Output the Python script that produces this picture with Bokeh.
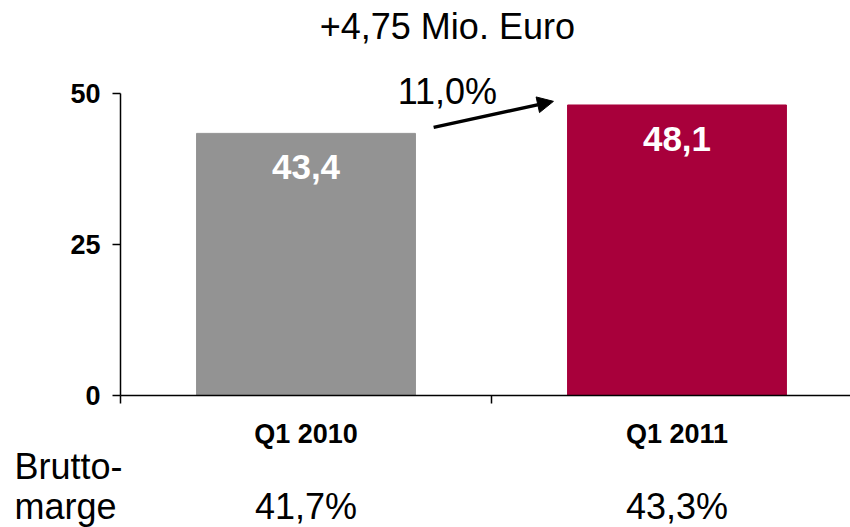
from bokeh.plotting import figure
from bokeh.models import Range1d, FixedTicker, Label, Arrow, NormalHead, ColumnDataSource
from bokeh.embed import file_html
from bokeh.resources import INLINE
from bokeh.core.properties import value

# ---- data ----
categories = ["Q1 2010", "Q1 2011"]
revenue = [43.4, 48.1]
revenue_labels = ["43,4", "48,1"]
margin_labels = ["41,7%", "43,3%"]
margin_row_title = ["Brutto-", "marge"]
growth_label = "11,0%"
delta_label = "+4,75 Mio. Euro"
bar_colors = ["#939393", "#A8003B"]
y_ticks = [0, 25, 50]

FONT = "Liberation Sans"
xs = [i + 0.5 for i in range(len(categories))]

src = ColumnDataSource(dict(x=xs, top=revenue, lab=revenue_labels, color=bar_colors))

# frame covers the whole canvas; axes are pinned at x=0 / y=0
p = figure(width=850, height=527, output_backend="svg", toolbar_location=None,
           x_range=Range1d(-0.3235, 1.9677), y_range=Range1d(-21.85, 65.4),
           min_border=0)
p.outline_line_color = None
p.grid.visible = False
p.background_fill_color = "white"
p.border_fill_color = "white"

p.vbar(x="x", top="top", width=0.59, color="color", source=src)
p.text(x="x", y="top", text="lab", source=src, text_color="white",
       text_font=value(FONT), text_font_style="bold", text_font_size="35px",
       text_align="center", text_baseline="middle", y_offset=34)

# y axis
ya = p.yaxis[0]
ya.fixed_location = 0
ya.bounds = (0, 50)
ya.ticker = FixedTicker(ticks=y_ticks)
ya.minor_tick_line_color = None
ya.major_tick_in = 0
ya.major_tick_out = 8
ya.major_label_text_font = FONT
ya.major_label_text_font_style = "bold"
ya.major_label_text_font_size = "27px"
ya.major_label_text_color = "black"
ya.major_label_standoff = 12
ya.axis_line_width = 1.5
ya.major_tick_line_width = 1.5

# x axis
xa = p.xaxis[0]
xa.fixed_location = 0
xa.bounds = (0, 2)
xa.ticker = FixedTicker(ticks=xs, minor_ticks=[0, 1, 2])
xa.major_tick_out = 0
xa.major_tick_in = 0
xa.minor_tick_in = 0
xa.minor_tick_out = 8
xa.minor_tick_line_width = 1.5
xa.axis_line_width = 1.5
xa.major_label_overrides = {x: c for x, c in zip(xs, categories)}
xa.major_label_text_font = FONT
xa.major_label_text_font_style = "bold"
xa.major_label_text_font_size = "27px"
xa.major_label_text_color = "black"
xa.major_label_standoff = 15

# annotations
def lab(x, y, text, align="center", size="36px"):
    p.add_layout(Label(x=x, y=y, text=text, text_font=FONT, text_font_size=size,
                       text_align=align, text_baseline="alphabetic", text_color="black"))

lab(0.881, 61.1, delta_label)
lab(0.881, 50.3, growth_label)
lab(-0.286, -11.7, margin_row_title[0], align="left")
lab(-0.286, -18.3, margin_row_title[1], align="left")
for x, m in zip(xs, margin_labels):
    lab(x, -18.3, m)

p.add_layout(Arrow(end=NormalHead(size=16, fill_color="black", line_color="black"),
                   x_start=0.844, y_start=44.4, x_end=1.167, y_end=48.7,
                   line_width=3.5, line_color="black"))

open("out.html", "w").write(file_html(p, INLINE))
